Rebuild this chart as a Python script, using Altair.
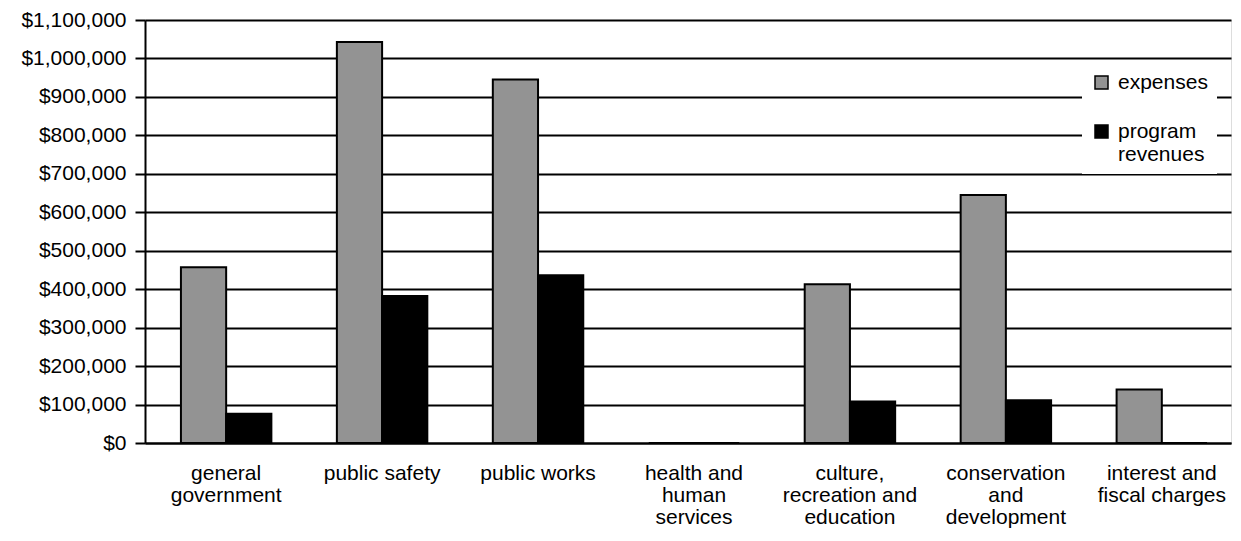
import json
import altair as alt
import pandas as pd

categories = [
    "general government",
    "public safety",
    "public works",
    "health and human services",
    "culture, recreation and education",
    "conservation and development",
    "interest and fiscal charges",
]
label_lines = [
    ["general", "government"],
    ["public safety"],
    ["public works"],
    ["health and", "human", "services"],
    ["culture,", "recreation and", "education"],
    ["conservation", "and", "development"],
    ["interest and", "fiscal charges"],
]
series = ["expenses", "program revenues"]
expenses = [457000, 1043000, 945000, 0, 413000, 645000, 139000]
revenues = [76000, 382000, 436000, 0, 108000, 111000, 0]

rows = []
for c, e, r in zip(categories, expenses, revenues):
    rows.append({"category": c, "series": series[0], "value": e})
    rows.append({"category": c, "series": series[1], "value": r})
df = pd.DataFrame(rows)

mapping = {c: l for c, l in zip(categories, label_lines)}
x_label_expr = json.dumps(mapping) + "[datum.label]"
legend_label_expr = "datum.label == 'program revenues' ? ['program', 'revenues'] : datum.label"

font = "Liberation Sans"

chart = (
    alt.Chart(df)
    .mark_bar(stroke="black", strokeWidth=2)
    .encode(
        x=alt.X(
            "category:N",
            sort=categories,
            title=None,
            scale=alt.Scale(paddingInner=0.42, paddingOuter=0.192, align=0.6),
            axis=alt.Axis(
                labelAngle=0,
                labelExpr=x_label_expr,
                labelFont=font,
                labelFontSize=21,
                labelColor="black",
                labelLineHeight=22,
                labelPadding=19,
                ticks=False,
                domainColor="black",
                domainWidth=2,
                grid=False,
                labelLimit=200,
            ),
        ),
        xOffset=alt.XOffset("series:N", sort=series),
        y=alt.Y(
            "value:Q",
            title=None,
            scale=alt.Scale(domain=[0, 1100000], nice=False),
            axis=alt.Axis(
                values=list(range(0, 1100001, 100000)),
                format="$,.0f",
                labelFont=font,
                labelFontSize=21,
                labelColor="black",
                labelPadding=9,
                tickSize=10,
                tickColor="black",
                tickWidth=2,
                domainColor="black",
                domainWidth=2,
                grid=True,
                gridColor="black",
                gridWidth=2,
                gridOpacity=1,
            ),
        ),
        fill=alt.Fill(
            "series:N",
            sort=series,
            scale=alt.Scale(domain=series, range=["#939393", "#000000"]),
            legend=alt.Legend(
                title=None,
                orient="none",
                legendX=937,
                legendY=43,
                fillColor="white",
                padding=9,
                symbolType="square",
                symbolSize=169,
                symbolStrokeColor="black",
                symbolStrokeWidth=1.5,
                labelFont=font,
                labelFontSize=21,
                labelColor="black",
                labelExpr=legend_label_expr,
                labelOffset=6,
                rowPadding=27,
                labelLimit=200,
            ),
        ),
    )
    .properties(
        width=1086,
        height=423,
        autosize=alt.AutoSizeParams(type="none"),
        padding={"left": 137, "top": 12, "right": 2, "bottom": 86},
    )
    .configure_view(stroke="black", strokeWidth=2)
    .configure(background="white")
)

chart.save("out.html", embed_options={"renderer": "svg", "actions": False})
